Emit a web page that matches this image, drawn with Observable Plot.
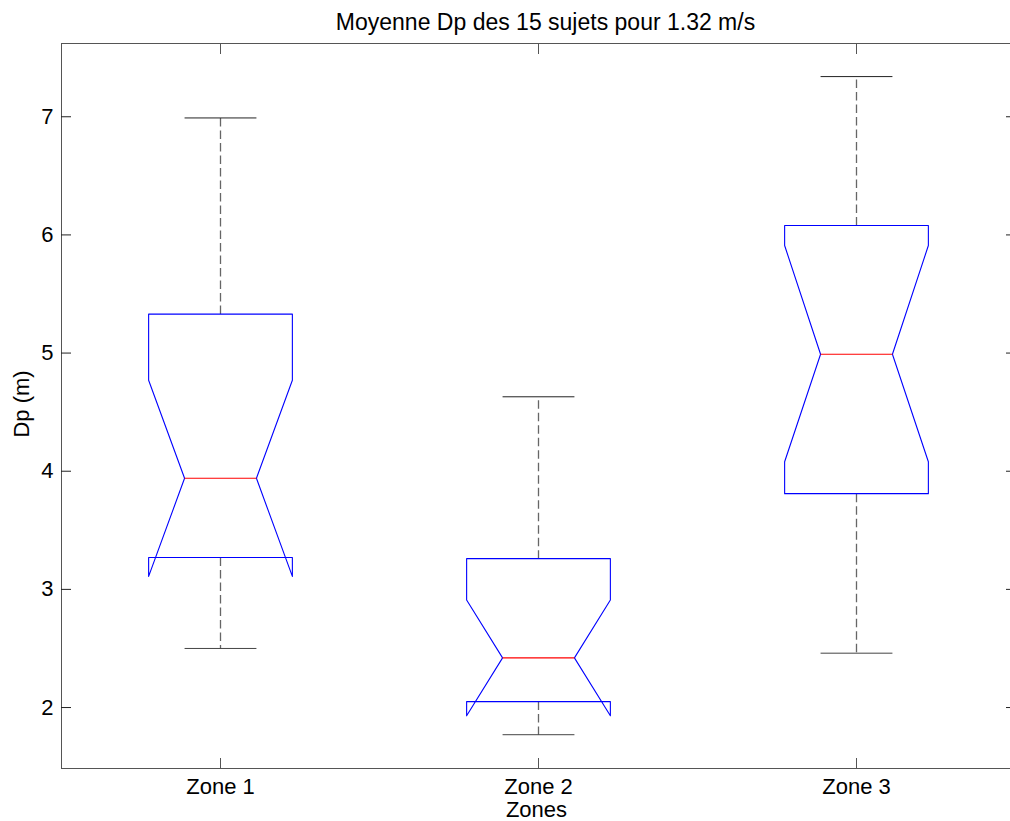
<!DOCTYPE html>
<html><head><meta charset="utf-8">
<script src="https://cdn.jsdelivr.net/npm/d3@7"></script>
<script src="https://cdn.jsdelivr.net/npm/@observablehq/plot@0.6"></script>
<style>
html,body{margin:0;padding:0;background:#fff;overflow:hidden}
</style>
</head><body><div id="chart"></div>
<script>
// Data (notched boxplots, MATLAB style)
const zones       = ["Zone 1", "Zone 2", "Zone 3"];
const whiskerHigh = [6.99, 4.63, 7.34];
const q3          = [5.33, 3.26, 6.08];
const notchHigh   = [4.77, 2.91, 5.91];
const median      = [3.94, 2.42, 4.99];
const notchLow    = [3.11, 1.93, 4.08];
const q1          = [3.27, 2.05, 3.81];
const whiskerLow  = [2.50, 1.77, 2.46];
const yTicks      = [2, 3, 4, 5, 6, 7];
const title       = "Moyenne Dp des 15 sujets pour 1.32 m/s";
const xLabel      = "Zones";
const yLabel      = "Dp (m)";

const pos = zones.map((_, i) => i + 1);
const hw = 0.226; // box half-width in x units

const outline = zones.flatMap((z, i) => {
  const x = pos[i];
  return [
    [x - hw, q3[i]], [x - hw, notchHigh[i]], [x - hw / 2, median[i]], [x - hw, notchLow[i]],
    [x - hw, q1[i]], [x + hw, q1[i]], [x + hw, notchLow[i]], [x + hw / 2, median[i]],
    [x + hw, notchHigh[i]], [x + hw, q3[i]], [x - hw, q3[i]]
  ].map(([px, py]) => ({zone: z, px, py}));
});

const rows = zones.map((z, i) => ({
  zone: z, x: pos[i], xl: pos[i] - hw / 2, xr: pos[i] + hw / 2,
  wh: whiskerHigh[i], q3: q3[i], med: median[i], q1: q1[i], wl: whiskerLow[i]
}));

const chart = Plot.plot({
  width: 1010,
  height: 821,
  marginLeft: 61,
  marginRight: -5,
  marginTop: 43,
  marginBottom: 53,
  style: {fontFamily: "'Liberation Sans', Arial, sans-serif", fontSize: "22px", background: "white", color: "black"},
  x: {type: "linear", domain: [0.5, 3.5], axis: null},
  y: {domain: [1.484, 7.62], axis: null},
  marks: [
    Plot.frame({stroke: "#555", strokeWidth: 1}),
    Plot.axisY(yTicks, {anchor: "left", tickSize: -10, tickPadding: 18, stroke: "#222", label: null,
      tickFormat: d => String(d), fontSize: 22}),
    Plot.axisY(yTicks, {anchor: "right", tickSize: -10, tickFormat: () => "", stroke: "#222", label: null}),
    Plot.axisX(pos, {anchor: "bottom", tickSize: -10, tickPadding: 20, stroke: "#555", label: null,
      tickFormat: d => zones[d - 1], fontSize: 22}),
    Plot.axisX(pos, {anchor: "top", tickSize: -10, tickFormat: () => "", stroke: "#555", label: null}),
    // whiskers (dashed)
    Plot.link(rows, {x1: "x", x2: "x", y1: "q3", y2: "wh", stroke: "#666", strokeWidth: 1.3, strokeDasharray: "8.5,4"}),
    Plot.link(rows, {x1: "x", x2: "x", y1: "q1", y2: "wl", stroke: "#666", strokeWidth: 1.3, strokeDasharray: "8.5,4"}),
    // caps
    Plot.link(rows, {x1: "xl", x2: "xr", y1: "wh", y2: "wh", stroke: "#222", strokeWidth: 1}),
    Plot.link(rows, {x1: "xl", x2: "xr", y1: "wl", y2: "wl", stroke: "#444", strokeWidth: 1}),
    // notched boxes
    Plot.line(outline, {x: "px", y: "py", z: "zone", stroke: "#0000ff", strokeWidth: 1.1, curve: "linear"}),
    // medians
    Plot.link(rows, {x1: "xl", x2: "xr", y1: "med", y2: "med", stroke: "#ff0000", strokeWidth: 1.1}),
    // texts
    Plot.text([title], {text: d => d, frameAnchor: "top", textAnchor: "middle", dy: -14, dx: 7, lineAnchor: "bottom", fontSize: 23, fill: "black"}),
    Plot.text([yLabel], {text: d => d, frameAnchor: "left", textAnchor: "middle", dx: -40, dy: -2, rotate: -90, fontSize: 22, fill: "black"}),
    Plot.text([xLabel], {text: d => d, frameAnchor: "bottom", textAnchor: "middle", dy: 48, dx: -2, lineAnchor: "bottom", fontSize: 22, fill: "black"})
  ]
});
document.getElementById("chart").appendChild(chart);
</script>
</body></html>
